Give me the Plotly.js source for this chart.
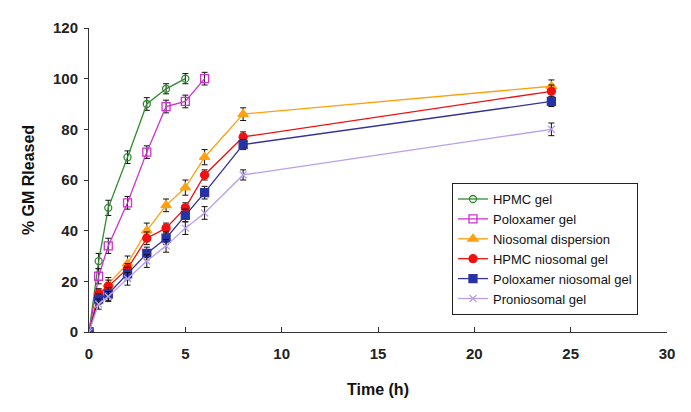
<!DOCTYPE html>
<html><head><meta charset="utf-8">
<script src="https://cdn.plot.ly/plotly-3.0.1.min.js"></script>
<style>html,body{margin:0;padding:0;background:#fff;}#chart{width:691px;height:412px;}</style>
</head><body><div id="chart"></div>
<script>
const timeAll = [0, 0.5, 1, 2, 3, 4, 5, 6, 8, 24];
const hpmcGelTime = [0, 0.5, 1, 2, 3, 4, 5];
const hpmcGel = [0, 28, 49, 69, 90, 96, 100];
const hpmcGelErr = [1, 3, 3, 2.5, 2.5, 2, 2];
const poloxGelTime = [0, 0.5, 1, 2, 3, 4, 5, 6];
const poloxGel = [0, 22, 34, 51, 71, 89, 91, 100];
const poloxGelErr = [1, 3, 3, 2.5, 2.5, 2.5, 2.5, 2.5];
const nioDisp = [0, 15, 19, 27, 40, 50, 57, 69, 86, 97];
const nioDispErr = [1, 2, 2.5, 3, 3, 2.5, 3, 3, 2.5, 2.5];
const hpmcNio = [0, 15, 18, 25, 37, 41, 49, 62, 77, 95];
const hpmcNioErr = [1, 2, 2.5, 2, 2.5, 2, 2, 2, 2, 2.5];
const poloxNio = [0, 13, 15, 23, 31, 37, 46, 55, 74, 91];
const poloxNioErr = [1, 2, 2.5, 2.5, 2.5, 2.5, 2.5, 2.5, 2, 2];
const pronio = [0, 11, 14, 21, 28, 34, 41, 47, 62, 80];
const pronioErr = [1, 2, 2, 2.5, 2.5, 2.5, 2.5, 2.5, 2, 2.5];
const names = ["HPMC gel", "Poloxamer gel", "Niosomal dispersion", "HPMC niosomal gel", "Poloxamer niosomal gel", "Proniosomal gel"];

function tr(x, y, err, name, color, symbol, msize, mcolor) {
  return {
    x: x, y: y, name: name, type: 'scatter', mode: 'lines+markers',
    line: {color: color, width: 1.3},
    marker: {symbol: symbol, size: msize, color: mcolor || color, line: {color: color, width: 1.3}},
    error_y: {type: 'data', array: err, visible: true, color: '#111', thickness: 1, width: 3}
  };
}
const data = [
  tr(hpmcGelTime, hpmcGel, hpmcGelErr, names[0], '#2e8b2e', 'circle-open', 7),
  tr(poloxGelTime, poloxGel, poloxGelErr, names[1], '#cc33cc', 'square-open', 8),
  tr(timeAll, nioDisp, nioDispErr, names[2], '#ffa010', 'triangle-up', 9),
  tr(timeAll, hpmcNio, hpmcNioErr, names[3], '#ee1111', 'circle', 8),
  tr(timeAll, poloxNio, poloxNioErr, names[4], '#333399', 'square', 8, '#2233aa'),
  tr(timeAll, pronio, pronioErr, names[5], '#b8a0e8', 'x-thin-open', 7)
];
const layout = {
  width: 691, height: 412,
  margin: {l: 89, r: 24, t: 28, b: 80},
  paper_bgcolor: '#fff', plot_bgcolor: '#fff',
  font: {family: 'Liberation Sans, Arial, sans-serif', color: '#111'},
  showlegend: true,
  legend: {x: 0.628, y: 0.49, xanchor: 'left', yanchor: 'top', bordercolor: '#222', borderwidth: 1,
    bgcolor: '#fff', font: {size: 13, color: '#111'}, tracegroupgap: 2, itemwidth: 30},
  xaxis: {range: [0, 30], tickvals: [0, 5, 10, 15, 20, 25, 30], ticks: 'inside', ticklen: 5,
    tickcolor: '#333', showgrid: false, zeroline: false, showline: true, linecolor: '#333', linewidth: 1,
    ticklabelstandoff: 8,
    tickfont: {size: 15, family: 'Liberation Sans, Arial, sans-serif', weight: 'bold', color: '#222'},
    title: {text: '<b>Time (h)</b>', font: {size: 16}, standoff: 22}},
  yaxis: {range: [0, 120], tickvals: [0, 20, 40, 60, 80, 100, 120], ticks: 'outside', ticklen: 4,
    tickcolor: '#333', showgrid: false, zeroline: false, showline: true, linecolor: '#333', linewidth: 1,
    ticklabelstandoff: 3,
    tickfont: {size: 15, family: 'Liberation Sans, Arial, sans-serif', weight: 'bold', color: '#222'},
    title: {text: '<b>% GM Rleased</b>', font: {size: 16}, standoff: 14}}
};
Plotly.newPlot('chart', data, layout, {displayModeBar: false, staticPlot: true});
</script>
</body></html>
